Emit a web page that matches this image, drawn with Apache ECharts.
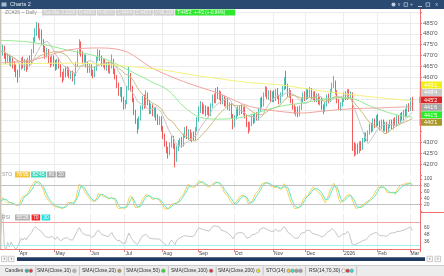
<!DOCTYPE html>
<html><head><meta charset="utf-8">
<script src="https://cdn.jsdelivr.net/npm/echarts@6/dist/echarts.min.js"></script>
<style>html,body{margin:0;padding:0;background:#fff;overflow:hidden}#c{width:444px;height:276px}</style>
</head><body><div id="c"></div>
<script>
// ---------- data ----------
const startDate = '2025-03-17', endDate = '2026-03-03';
const holidays = ['2025-04-18','2025-05-26','2025-06-19','2025-07-04','2025-09-01','2025-11-27','2025-12-25','2026-01-01','2026-01-19','2026-02-16'];
const padSlots = 4;
const monthNames = ['Jan','Feb','Mar','Apr','May','Jun','Jul','Aug','Sep','Oct','Nov','Dec'];
// [open, close, low, high]
const candles = [
[474,472,470.5,476],[472,473.5,470,475],[473,470,468.5,474.5],[470,468,466,471.5],[468,469.5,466.5,471],
[469.5,467,465.5,470.5],[467,468.5,465,470],[468,466,464,469],[466,465,462.5,467.5],[465,462,460,466],
[462,460.5,457.5,463.5],[461,465,460,466.5],[465,468,463.5,469],[468,465.5,464,469.5],[465.5,467.5,463,468.5],
[467,464.5,462.5,468],[464.5,468,463.5,469],[468,466.5,465,470],[467,472,466,473],[472,477.5,471,478.5],
[477.5,481,476,482.5],[480,483.5,479,485.5],[483.5,479,478,485],[479,481,477,482.5],[481,476.5,475,482],
[476.5,473,471.5,477.5],[473,470,468.5,474.5],[470,472,469,473.5],[472,468,466.5,473],[468,466.5,464.5,469.5],
[466.5,469,465.5,470],[469,467,465,470],[467,464.5,463,468],[464.5,467.5,463.5,468.5],[467.5,465,464,469],
[465,461,460,466],[461,459.5,457.5,462.5],[459.5,463,458.5,464],[463,461.5,460,465],[461.5,463.5,460.5,465],
[463.5,460.5,459.5,464.5],[460.5,462,459,463],[462,459,458,463],[459,461,456.5,462],[461,466,460.5,467],
[466,471.5,465,472.5],[471.5,475.5,470.5,477.5],[475.5,471,469.5,476.5],[471,468,466.5,472],[468,469.5,466,470.5],
[469.5,465.5,464.5,470.5],[465.5,463.5,462,467],[463.5,465,462,466.5],[465,462,460.5,466],[462,461,459.5,463.5],
[461,464,460,465],[464,468.5,463,469.5],[468.5,471.5,467.5,473],[471.5,469,467.5,472.5],[469,466,465,470],
[466,467.5,464.5,468.5],[467.5,464.5,463.5,468.5],[464.5,466,463,467],[466,463,462,467],[463,465,461.5,466],
[465,468,464,470.5],[468,463,461.5,468.5],[463,460,459,464],[460,456.5,455,461],[456.5,453,451.5,457.5],
[453,454.5,451,455.5],[454.5,450,448.5,455.5],[450,447,445,451],[447,448.5,445.5,449.5],[448.5,455,447.5,456],
[455,461.5,454,465],[461.5,455,453.5,462],[455,449.5,448.5,456],[449.5,444,442.5,450.5],[444,440,438.5,445],
[440,437.5,434,441],[437.5,441,436,442],[441,446,440,447],[446,450,445,451.5],[450,447,445.5,452],
[447,452,446,454],[452,448.5,447,453],[448.5,444.5,443,449.5],[444.5,446.5,443,448],[446.5,443,442,447.5],
[443,445,441.5,446],[445,441.5,440,446],[441.5,439.5,438,443],[439.5,441,438,442],[441,436.5,435,442],
[436.5,433,431.5,437.5],[433,429.5,428,434],[429.5,427,425,430.5],[427,425,422.5,428],[425,429,424,430],
[429,432,427.5,433],[432,428.5,427,433],[428.5,422,418.5,429.5],[422,427.5,421,428.5],[427.5,429.5,426,431],
[429.5,431,428,432],[431,429,427.5,432.5],[429,433,428,434],[433,435.5,432,437],[435.5,433,431.5,437.5],
[433,435,431,436],[435,431.5,430.5,436],[431.5,433.5,430,434.5],[433.5,432,430.5,435],[432,436,431,437],
[436,440.5,435,441.5],[440.5,445,439.5,446.5],[445,447.5,443.5,449],[447.5,444,443,448.5],[444,446.5,443,447.5],
[446.5,443.5,442,447],[443.5,445.5,442.5,446.5],[445.5,443,441.5,446.5],[443,447,442,448],[447,451,446,452],
[451,449,448,452.5],[449,453.5,448,455],[453.5,451.5,450,455.5],[451.5,452.5,449.5,454],[452.5,449,447.5,453.5],
[449,450.5,447.5,452],[450.5,448,446.5,451.5],[448,449.5,446.5,450.5],[449.5,446,445,450.5],[446,447.5,444.5,448.5],
[447.5,442,441,448],[442,438,436,443],[438,441.5,437,442.5],[441.5,445,440.5,446],[445,443.5,442,446.5],
[443.5,446,442.5,447],[446,444,443,447.5],[444,445.5,442.5,446.5],[445.5,442,441,446.5],[442,438.5,437,443],
[438.5,435.5,434,439.5],[435.5,438.5,435,439.5],[438.5,441.5,437.5,442.5],[441.5,440,438.5,443],[440,442.5,439,443.5],
[442.5,441,440,444],[441,445,440,446],[445,449.5,444,450.5],[449.5,447.5,446,451],[447.5,452,446.5,453],
[452,454.5,451,456],[454.5,451,450,455.5],[451,453,449.5,454],[453,449.5,448.5,454],[449.5,452.5,448.5,453.5],
[452.5,450,448.5,454],[450,453.5,449,454.5],[453.5,451,450,455],[451,449,447.5,452],[449,452,448,453],
[452,455,451,456],[455,458.5,454,460],[458.5,456,454.5,463],[456,452,451,457],[452,453.5,450.5,455],
[453.5,449,448,454],[449,446.5,445,450],[446.5,444,443,447.5],[444,445.5,442,446.5],[445.5,443,441.5,446.5],
[443,446,442,447],[446,449.5,445,450.5],[449.5,452,448.5,453],[452,450.5,449,453.5],[450.5,453.5,449.5,455],
[453.5,451.5,450,454.5],[451.5,454,450.5,455.5],[454,451,450,455],[451,452.5,449.5,453.5],[452.5,449.5,448.5,453.5],
[449.5,451.5,448.5,452.5],[451.5,448.5,447.5,452.5],[448.5,450,447,451],[450,446,445,451],[446,444.5,443,447.5],
[444.5,447.5,444,448.5],[447.5,451,446.5,452],[451,449.5,448,452.5],[449.5,453.5,448.5,454.5],[453.5,456.5,452.5,457.5],
[456.5,457.5,455,460.5],[457.5,453,452,458.5],[453,449,448,454],[449,446,445,450],[446,447.5,444.5,448.5],
[447.5,449.5,446.5,450.5],[449.5,452,448.5,453],[452,450.5,449.5,453.5],[450.5,453.5,449.5,454.5],[453.5,451,450,454.5],
[451,452.5,450,453.5],[452.5,428,426,453],[428,425.5,423.5,430],[425.5,428,424,429.5],[428,426,424.5,429.5],
[426,429,425,430.5],[429,427.5,426,430.5],[427.5,431,426.5,432],[431,433.5,430,434.5],[433.5,431.5,430.5,434.5],
[431.5,434.5,430.5,435.5],[434.5,437.5,433.5,438.5],[437.5,436,434.5,439],[436,440,435,441],[440,438,436.5,441],
[438,441.5,437,442.5],[441.5,439,437.5,443],[439,437,435.5,440],[437,439.5,436,440.5],[439.5,436.5,435,440.5],
[436.5,438.5,435,439.5],[438.5,435.5,434,439.5],[435.5,437.5,434.5,438.5],[437.5,439.5,436.5,440.5],[439.5,437,436,440.5],
[437,440,436,441],[440,438.5,437.5,441.5],[438.5,441.5,437.5,442.5],[441.5,440,438.5,442.5],[440,442.5,439,443.5],
[442.5,441,440,444],[441,444,440,445],[444,443,441.5,445.5],[443,446.5,442,447.5],[446.5,445,444,448],
[445,449,444.5,450.5],[449,445.25,444.5,451]
];
// long moving averages: [bar index, value]
const sma50Pts = [[0,477],[19,476],[39,472.5],[59,469],[78,462],[88,458],[98,454],[107,446.5],[117,441.5],[127,440.7],[137,441],[146,442.6],[156,445],[166,447],[176,448],[190,450],[203,450.5],[217,446.5],[230,443],[241,441.6]];
const sma100Pts = [[0,466.6],[19,468],[39,472.5],[59,473.5],[74,471.6],[88,464.5],[107,458],[127,452.7],[146,446.5],[166,444],[176,443.5],[190,444.5],[206,445.5],[220,445.8],[241,446.5]];
const sma200Pts = [[0,466],[40,466.5],[88,464],[117,460.5],[146,457.5],[164,456.5],[176,455],[205,452],[241,449.1]];
const priceTicks = [485,480,475,470,465,460,430,425,420];
const priceTags = [449.125, 448.5, 445.25, 441.75, 441.625, 440.125];
const stoLevels = [80, 20];
const rsiLevels = [70, 30];
const legendNames = ['Candles','SMA(Close,10)','SMA(Close,20)','SMA(Close,50)','SMA(Close,100)','SMA(Close,200)','STO(14)','RSI(14,70,30)'];

// ---------- helpers ----------
const FONT = '"Liberation Sans", Arial, sans-serif';
function tradingDays(s, e, hol, pad) {
  const out = []; let d = new Date(s + 'T00:00:00Z'); const end = new Date(e + 'T00:00:00Z');
  while (d <= end) { const wd = d.getUTCDay(); const iso = d.toISOString().slice(0,10);
    if (wd !== 0 && wd !== 6 && !hol.includes(iso)) out.push(iso); d = new Date(d.getTime() + 86400000); }
  let extra = 0; while (extra < pad) { const wd = d.getUTCDay();
    if (wd !== 0 && wd !== 6) { out.push(d.toISOString().slice(0,10)); extra++; } d = new Date(d.getTime() + 86400000); }
  return out;
}
const categories = tradingDays(startDate, endDate, holidays, padSlots);
const isMonthStart = categories.map((c,i) => i > 0 && c.slice(0,7) !== categories[i-1].slice(0,7));
const closes = candles.map(c => c[1]);
function sma(arr, n) { return arr.map((_, i) => { const s = Math.max(0, i-n+1); let t = 0; for (let j = s; j <= i; j++) t += arr[j]; return +(t/(i-s+1)).toFixed(3); }); }
const sma10 = sma(closes, 10), sma20 = sma(closes, 20);
const fastK = candles.map((c,i) => { let hh=-Infinity, ll=Infinity; for (let j=Math.max(0,i-13); j<=i; j++){ hh=Math.max(hh,candles[j][3]); ll=Math.min(ll,candles[j][2]); } return hh>ll ? (c[1]-ll)/(hh-ll)*100 : 50; });
const stoK = sma(fastK, 3), stoD = sma(stoK, 3);
const rsi = []; { let ag=0, al=0; for (let i=0;i<closes.length;i++){ if(i===0){rsi.push(50);continue;} const ch=closes[i]-closes[i-1]; const g=Math.max(ch,0), l=Math.max(-ch,0);
  if(i<=14){ag=(ag*(i-1)+g)/i; al=(al*(i-1)+l)/i;} else {ag=(ag*13+g)/14; al=(al*13+l)/14;} rsi.push(+(al===0?100:100-100/(1+ag/al)).toFixed(2)); } }
const fmtP = v => { const w = Math.floor(v + 1e-9); const e = Math.round((v - w) * 8); return w + "'" + e; };
const fmtD = v => { const s = v.toFixed(2).split('.'); return s[0] + "'" + s[1]; };
const measure = (() => { const ctx = document.createElement('canvas').getContext('2d'); return (t, size) => { ctx.font = size + 'px ' + FONT; return ctx.measureText(t).width; }; })();

// ---------- graphics (chrome, tags, legend) ----------
const G = [];
const rect = (x,y,w,h,fill,stroke) => G.push({type:'rect', shape:{x,y,width:w,height:h}, style:{fill, stroke: stroke||null, lineWidth: stroke?0.7:0}, silent:true, z:100});
const text = (x,y,t,fill,size,align) => G.push({type:'text', x, y, style:{text:t, fill, font: size+'px '+FONT, align: align||'left', verticalAlign:'middle', textAlign: align||'left', textVerticalAlign:'middle'}, silent:true, z:102});
const line = (x1,y1,x2,y2,stroke,w) => G.push({type:'line', shape:{x1,y1,x2,y2}, style:{stroke, lineWidth: w||1}, silent:true, z:101});
const circle = (cx,cy,r,fill,stroke) => G.push({type:'circle', shape:{cx,cy,r}, style:{fill, stroke: stroke||null, lineWidth:0.6}, silent:true, z:102});

// title bar
rect(0,0,444,9,'#2b4a71');
rect(1.5,2.5,5,4,'#a9bbd2');
text(10,4.7,'Charts 2','#e6edf6',5.5);
circle(393.5,4.5,2,'#c3cedd'); text(398,4.3,'v','#c3cedd',4.5);
rect(404,2.8,3.6,3.6,null,'#c3cedd'); text(410,4.6,'+','#c3cedd',5);
line(418,6.5,422,6.5,'#c3cedd',1); rect(426,2.8,3.6,3.6,null,'#c3cedd'); text(436.5,4.6,'x','#c3cedd',5.5,'center');
// left window edge
rect(0,9,1.4,240,'#cbc5b8');

// header info row
text(5,12.6,'ZC#26 ~ Daily','#8c8c8c',5);
const last = candles[candles.length-1], prev = candles[candles.length-2];
const chg = last[1] - prev[1];
const infoParts = ['Tue Mar 3 2026','O:'+fmtP(last[0]),'H:'+fmtP(last[3]),'L:'+fmtP(last[2]),'C:'+fmtP(last[1]),'V:96,218'];
let hx = 42;
infoParts.forEach(t => { const w = measure(t,4.5) + 3; rect(hx,9.6,w,6,'#cfcfcf'); text(hx+1.5,12.7,t,'#f4f4f4',4.5); hx += w + 0.8; });
{ const t = 'T:'+fmtP(last[1])+'  +'+fmtP(chg)+' (+'+(chg/prev[1]*100).toFixed(2)+'%)'; const w = Math.max(measure(t,4.5)+4, 60); rect(hx,9.6,w,6,'#2ee82e'); text(hx+2,12.7,t,'#ffffff',4.5); }

// right axis border and separators
line(420.5,9,420.5,249,'#f07070',1);
line(420,212.5,444,212.5,'#f07070',1);

// price tags on the axis
const tagColors = ['#f2ef1a','#c8c8c8','#d92626','#a8a8a8','#27ee27','#a8962a'];
priceTags.forEach((v,k) => { const cy = 85 + k*7.45; rect(419.5,cy-3.5,22.5,7,tagColors[k]); text(430.7,cy+0.2,fmtP(v),'#ffffff',5.5,'center'); });

// STO / RSI headers
const lk = stoK[stoK.length-1], ld = stoD[stoD.length-1], lr = rsi[rsi.length-1];
text(2,174.5,'STO','#9a9a9a',5);
{ let x=15; [[fmtD(lk),'#f2c43a'],[fmtD(ld),'#3fdcc0'],[String(stoLevels[0]),'#a8a8a8'],[String(stoLevels[1]),'#a8a8a8']].forEach(([t,c]) => { const w=measure(t,5)+3; rect(x,171.5,w,6,c); text(x+1.5,174.6,t,'#ffffff',5); x+=w+1; }); }
text(2,217.5,'RSI','#9a9a9a',5);
{ let x=15; [[fmtD(lr),'#b4b4b4'],[String(rsiLevels[0]),'#ee2a2a'],[String(rsiLevels[1]),'#22dede']].forEach(([t,c]) => { const w=measure(t,5)+3; rect(x,214.5,w,6,c); text(x+1.5,217.6,t,'#ffffff',5); x+=w+1.5; }); }

// scroll bar
rect(1.5,256.2,5.5,5.5,'#f6f6f6','#b9b9b9'); text(4.3,259,'‹','#555',5,'center');
rect(8.5,256.2,5.5,5.5,'#f6f6f6','#b9b9b9'); text(11.3,259,'›','#555',5,'center');
rect(17,257.3,408,3.6,'#1e3a60');
rect(427,256.2,5.5,5.5,'#f6f6f6','#b9b9b9'); text(429.8,259,'‹','#555',5,'center');
rect(435,256.2,5.5,5.5,'#f6f6f6','#b9b9b9'); text(437.8,259,'›','#555',5,'center');

// legend bar
rect(0,265,444,11,'#ececec'); line(0,265.5,444,265.5,'#cdcdcd',1);
const legX = [5,37,82,126,171,218,266,309];
const legIcons = [['#2ab4a6','#ee3232'],['#b9b9b9'],['#b3a25a'],['#29e029'],['#e02c2c'],['#e9e21c'],['#f2c43a','#3fdcc0','#a0a0a0','#a0a0a0'],['#ffffff','#ee2a2a','#22dede']];
legendNames.forEach((n,k) => { const x = legX[k]; text(x,271,n,'#333333',5); const w = measure(n,5);
  let cx = x + w + 3.5; legIcons[k].forEach(c => { circle(cx,270.8,1.8,c,'#8a8a8a'); cx += 4; });
  line(cx+1,266.5,cx+1,275.5,'#c4c4c4',1); });

// ---------- chart ----------
const splitMain = []; for (let v = 415; v <= 490; v += 5) splitMain.push(v === 415 ? 'rgba(0,0,0,0)' : '#ececec');
const xCommon = (gi, showLabels) => ({
  type:'category', gridIndex: gi, data: categories, boundaryGap: true,
  axisLine:{show: showLabels, lineStyle:{color:'#f07070', width:1}},
  axisTick:{show: showLabels, interval:(i)=>isMonthStart[i], length:3, lineStyle:{color:'#f07070'}},
  axisLabel:{show: showLabels, interval:(i)=>isMonthStart[i], align:'left', margin:2, fontSize:5, color:'#444', fontFamily: FONT,
    formatter: (val) => { const m = +val.slice(5,7); return m === 1 ? val.slice(0,4) : monthNames[m-1]; }},
  splitLine:{show:true, interval:(i)=>isMonthStart[i], lineStyle:{color:'#ececec', width:1}}
});
const lineS = (xi, data, color, extra) => Object.assign({type:'line', xAxisIndex: xi, yAxisIndex: xi, data, showSymbol:false, symbol:'none', silent:true, lineStyle:{color, width:1}, itemStyle:{color}, animation:false}, extra||{});

const option = {
  animation: false,
  textStyle: {fontFamily: FONT},
  grid: [
    {left:0, right:24, top:12.15, height:162.7, containLabel:false, outerBoundsMode:'none'},
    {left:0, right:24, top:179, height:32, containLabel:false, outerBoundsMode:'none'},
    {left:0, right:24, top:214, height:35, containLabel:false, outerBoundsMode:'none'}
  ],
  xAxis: [xCommon(0,false), xCommon(1,false), xCommon(2,true)],
  yAxis: [
    {type:'value', gridIndex:0, position:'right', min:415, max:490, interval:5,
      axisLine:{show:false}, axisTick:{show:true, length:2, lineStyle:{color:'#f07070'}},
      axisLabel:{fontSize:6, color:'#555', margin:3, fontFamily: FONT, formatter: v => priceTicks.includes(v) ? fmtP(v) : ''},
      splitLine:{show:true, lineStyle:{color: splitMain, width:1}}},
    {type:'value', gridIndex:1, position:'right', min:0, max:100, interval:20,
      axisLine:{show:false}, axisTick:{show:true, length:2, lineStyle:{color:'#f07070'}},
      axisLabel:{fontSize:5, color:'#555', margin:4, fontFamily: FONT, formatter: v => v === 0 ? '' : String(v)},
      splitLine:{show:false}},
    {type:'value', gridIndex:2, position:'right', min:24, max:84, interval:12,
      axisLine:{show:false}, axisTick:{show:false},
      axisLabel:{fontSize:5, color:'#555', margin:4, fontFamily: FONT, formatter: v => (v === 36 || v === 48 || v === 60) ? String(v) : ''},
      splitLine:{show:false}}
  ],
  series: [
    {type:'candlestick', xAxisIndex:0, yAxisIndex:0, data: candles, barWidth: 1.1, silent:true,
      itemStyle:{color:'#26b2a3', color0:'#ef3535', borderColor:'#26b2a3', borderColor0:'#ef3535', borderWidth:0.8}},
    lineS(0, sma10, '#c4c4c4'),
    lineS(0, sma20, '#cbbb7c'),
    lineS(0, sma50Pts, '#93ea93', {smooth:0.35}),
    lineS(0, sma100Pts, '#f1a4a0', {smooth:0.35}),
    lineS(0, sma200Pts, '#f5f07c', {smooth:0.35}),
    lineS(1, stoK, '#f7cf55', {markLine:{silent:true, symbol:'none', label:{show:false}, lineStyle:{color:'#c2c2c2', type:'solid', width:1}, data: stoLevels.map(v => ({yAxis:v}))}}),
    lineS(1, stoD, '#5fe6c6'),
    lineS(2, rsi, '#c6c6c6', {markLine:{silent:true, symbol:'none', label:{show:false}, data:[
      {yAxis: rsiLevels[0], lineStyle:{color:'#f4a2a2', type:'solid', width:1}},
      {yAxis: rsiLevels[1], lineStyle:{color:'#9ff0f0', type:'solid', width:1}}]}})
  ],
  graphic: {elements: G}
};
const chart = echarts.init(document.getElementById('c'), null, {renderer:'canvas'});
chart.setOption(option);
</script>
</body></html>
